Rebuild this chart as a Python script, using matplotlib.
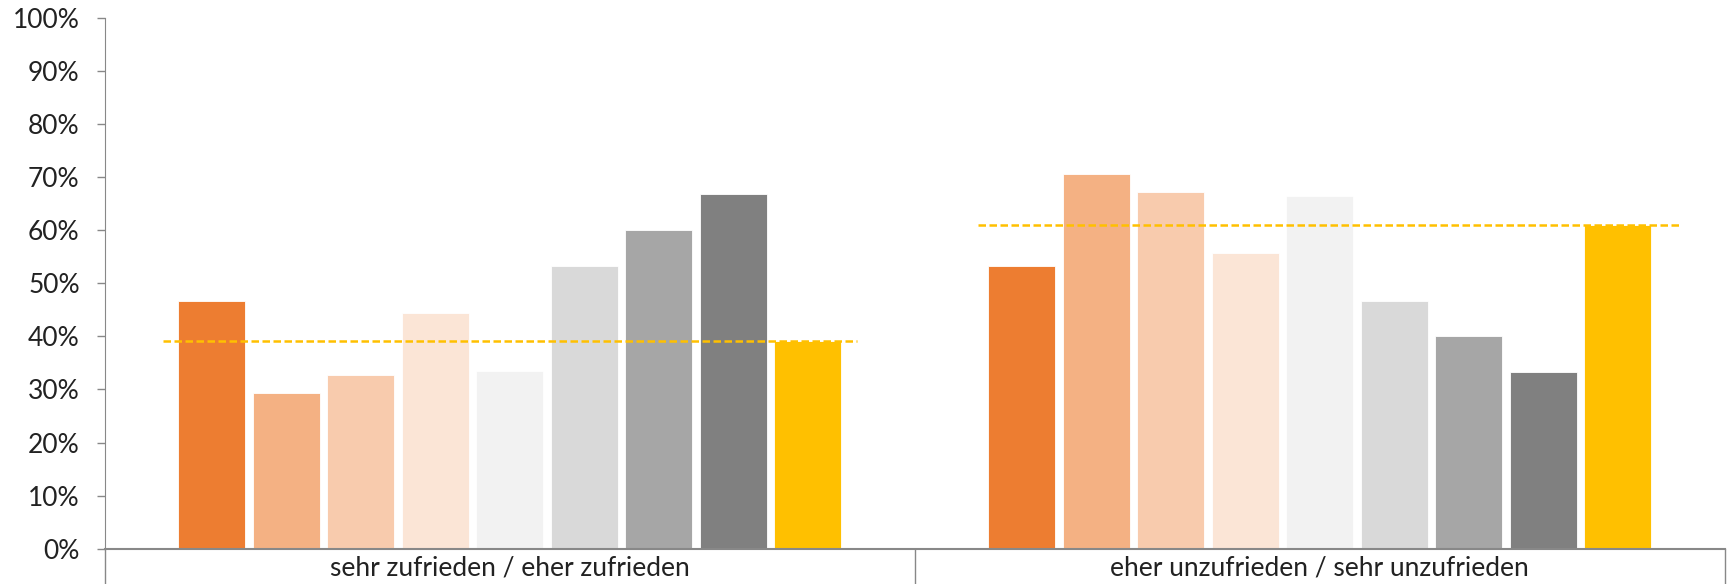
import matplotlib.pyplot as plt
import numpy as np

# categories on the x axis
categories = ["sehr zufrieden / eher zufrieden", "eher unzufrieden / sehr unzufrieden"]

# one series per colour, value per category (in %)
series_values = [
    [46.7, 53.3],
    [29.4, 70.6],
    [32.8, 67.2],
    [44.4, 55.6],
    [33.5, 66.5],
    [53.3, 46.7],
    [60.0, 40.0],
    [66.7, 33.3],
    [39.1, 60.9],
]
# dashed reference line per category (= total)
reference_values = [39.1, 60.9]

colours = ["#ED7D31", "#F4B183", "#F8CBAD", "#FBE5D6", "#F2F2F2",
           "#D9D9D9", "#A6A6A6", "#808080", "#FFC000"]

plt.rcParams["font.family"] = ["Lato", "DejaVu Sans"]

fig = plt.figure(figsize=(17.28, 5.84), dpi=100)
ax = fig.add_axes([0.0606, 0.0603, 0.9375, 0.9096])

n = len(series_values)
step = 0.092
width = 0.083
x = np.arange(len(categories))
for i, vals in enumerate(series_values):
    offset = (i - (n - 1) / 2) * step
    ax.bar(x + offset, vals, width=width, color=colours[i], edgecolor="white", linewidth=0.6, zorder=2)

# dashed total lines (left/right reach relative to category centre)
line_reach = [(-0.428, 0.429), (-0.422, 0.444)]
for xi, ref, (lo, hi) in zip(x, reference_values, line_reach):
    ax.plot([xi + lo, xi + hi], [ref, ref], color="#FFC000", linestyle=(0, (3, 1.4)),
            linewidth=1.8, zorder=3)

ax.set_xlim(-0.5, 1.5)
ax.set_ylim(0, 100)
ax.set_yticks(np.arange(0, 101, 10))
ax.set_yticklabels([f"{v}%" for v in range(0, 101, 10)], fontsize=19, color="#222222")
ax.tick_params(axis="y", length=6, width=1, color="#888888", pad=12)

ax.set_xticks(x)
ax.set_xticklabels(categories, fontsize=19, color="#222222")
ax.tick_params(axis="x", length=0, pad=5)

for s in ["top", "right"]:
    ax.spines[s].set_visible(False)
ax.spines["left"].set_color("#888888")
ax.spines["bottom"].set_color("#888888")
ax.spines["bottom"].set_linewidth(1.5)
ax.spines["left"].set_bounds(0, 100)

# category separators below the axis (Excel style)
trans = ax.get_xaxis_transform()
for xs in [-0.5, 0.5, 1.5]:
    ax.plot([xs, xs], [0, -0.1], transform=trans, color="#888888", linewidth=1, clip_on=False)

fig.savefig("out.png", dpi=100)
